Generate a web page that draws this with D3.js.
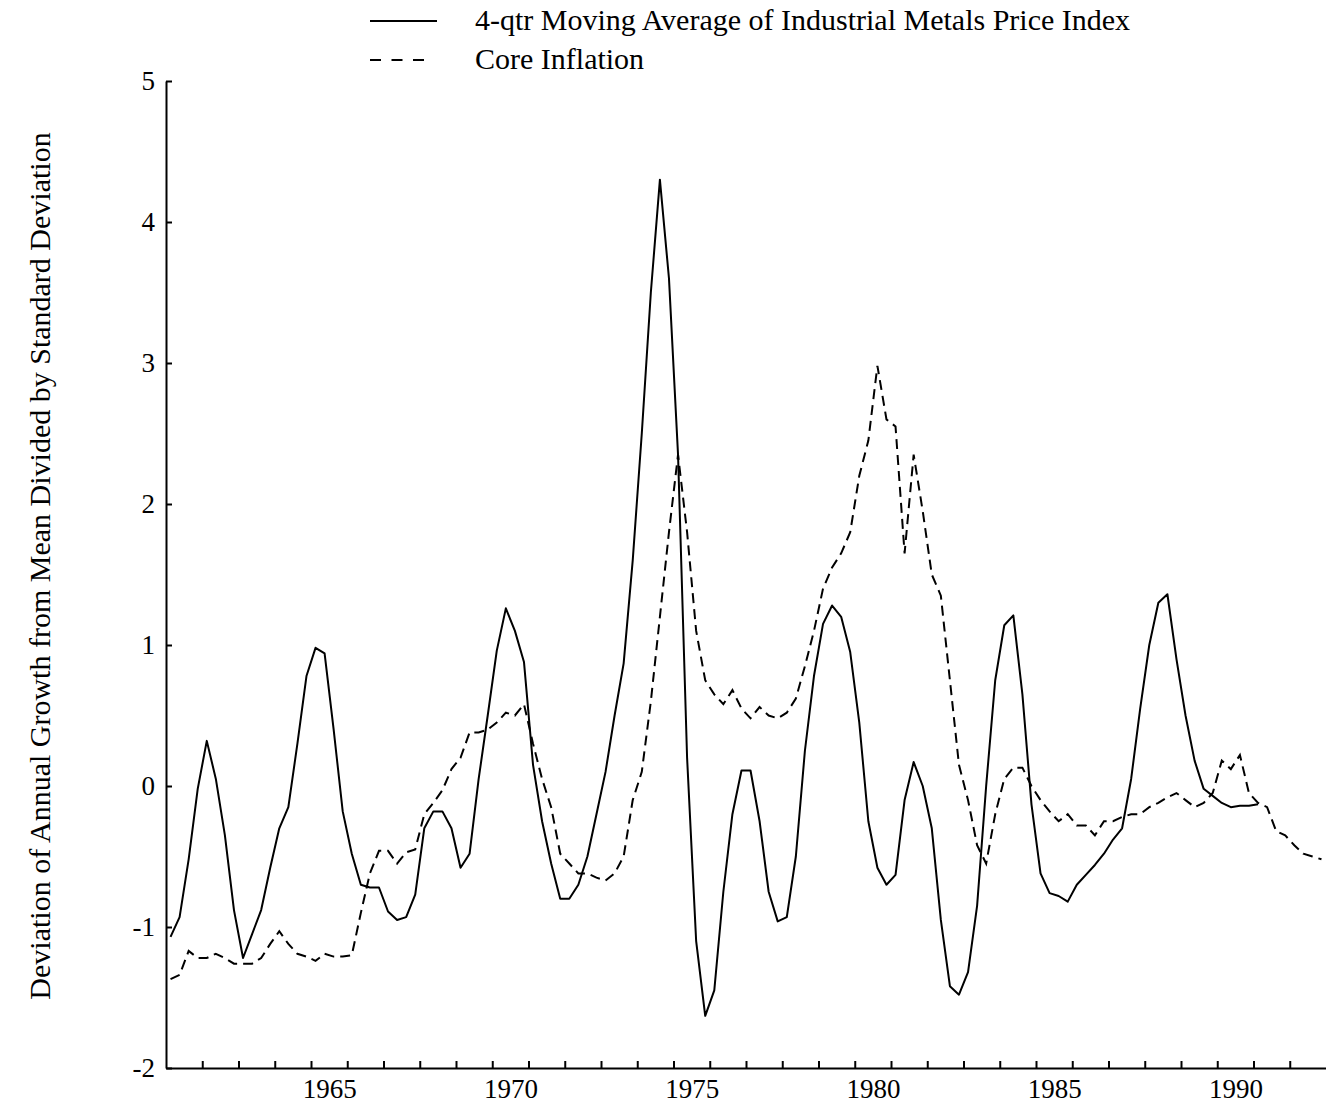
<!DOCTYPE html>
<html>
<head>
<meta charset="utf-8">
<script src="https://cdn.jsdelivr.net/npm/d3@7"></script>
<style>
  body { margin: 0; background: #fff; }
  svg { display: block; font-family: "Liberation Serif", "Times New Roman", serif; }
  .axis path, .axis line { stroke: #000; stroke-width: 2; }
  .axis text { font-size: 27px; fill: #000; font-family: "Liberation Serif", serif; }
</style>
</head>
<body>
<svg id="chart" width="1326" height="1110"></svg>
<script>
// quarterly series, first point 1961 Q1
const startYear = 1961
const metals = [
  -1.07, -0.93, -0.52, -0.02, 0.32, 0.05, -0.35, -0.88, -1.22, -1.05,
  -0.88, -0.58, -0.30, -0.15, 0.30, 0.78, 0.98, 0.94, 0.40, -0.18,
  -0.48, -0.70, -0.72, -0.72, -0.89, -0.95, -0.93, -0.77, -0.30, -0.18,
  -0.18, -0.30, -0.58, -0.48, 0.05, 0.50, 0.96, 1.26, 1.10, 0.88,
  0.15, -0.25, -0.55, -0.80, -0.80, -0.70, -0.50, -0.20, 0.10, 0.50,
  0.87, 1.60, 2.50, 3.50, 4.30, 3.60, 2.35, 0.20, -1.10, -1.63,
  -1.45, -0.75, -0.20, 0.11, 0.11, -0.25, -0.75, -0.96, -0.93, -0.50,
  0.25, 0.78, 1.15, 1.28, 1.20, 0.95, 0.45, -0.25, -0.58, -0.70,
  -0.63, -0.10, 0.17, 0.00, -0.30, -0.95, -1.42, -1.48, -1.32, -0.85,
  0.00, 0.75, 1.14, 1.21, 0.65, -0.13, -0.62, -0.76, -0.78, -0.82,
  -0.70, -0.63, -0.56, -0.48, -0.38, -0.30, 0.05, 0.55, 1.00, 1.30,
  1.36, 0.90, 0.50, 0.18, -0.02, -0.07, -0.12, -0.15, -0.14, -0.14,
  -0.13
]
const coreInflation = [
  -1.37, -1.34, -1.17, -1.22, -1.22, -1.19, -1.22, -1.26, -1.26, -1.26,
  -1.22, -1.12, -1.03, -1.12, -1.19, -1.21, -1.24, -1.19, -1.21, -1.21,
  -1.20, -0.90, -0.62, -0.46, -0.46, -0.55, -0.47, -0.45, -0.20, -0.12,
  -0.03, 0.12, 0.20, 0.38, 0.38, 0.40, 0.45, 0.52, 0.50, 0.58,
  0.30, 0.05, -0.15, -0.48, -0.55, -0.62, -0.62, -0.65, -0.67, -0.62,
  -0.50, -0.10, 0.10, 0.60, 1.20, 1.80, 2.35, 1.80, 1.10, 0.75,
  0.65, 0.58, 0.68, 0.55, 0.48, 0.56, 0.50, 0.48, 0.52, 0.62,
  0.85, 1.10, 1.40, 1.55, 1.65, 1.80, 2.20, 2.45, 2.98, 2.60,
  2.55, 1.65, 2.35, 1.95, 1.50, 1.35, 0.75, 0.15, -0.10, -0.42,
  -0.55, -0.20, 0.05, 0.13, 0.13, 0.00, -0.10, -0.18, -0.25, -0.20,
  -0.28, -0.28, -0.35, -0.25, -0.25, -0.22, -0.20, -0.20, -0.15, -0.12,
  -0.08, -0.05, -0.10, -0.15, -0.12, -0.05, 0.18, 0.12, 0.22, -0.05,
  -0.12, -0.15, -0.32, -0.35, -0.42, -0.48, -0.50, -0.52
]
const yTicks = [-2, -1, 0, 1, 2, 3, 4, 5]
const yearLabels = [1965, 1970, 1975, 1980, 1985, 1990]
const seriesNames = ['4-qtr Moving Average of Industrial Metals Price Index', 'Core Inflation']

const svg = d3.select('#chart')

const x = d3.scaleLinear().domain([1961, 1993]).range([166, 1326])
const y = d3.scaleLinear().domain([-2, 5]).range([1068, 81])

const toPoints = arr => arr.map((v, i) => ({ t: startYear + 0.125 + i / 4, v }))

const line = d3.line().x(d => x(d.t)).y(d => y(d.v))

// axes
svg.append('g')
  .attr('class', 'axis')
  .attr('transform', `translate(${x(1961)},0)`)
  .call(d3.axisLeft(y).tickValues(yTicks).tickFormat(d => String(d))
    .tickSizeInner(-6).tickSizeOuter(0).tickPadding(11))

svg.append('g')
  .attr('class', 'axis')
  .attr('transform', `translate(0,${y(-2)})`)
  .call(d3.axisBottom(x).tickValues(d3.range(1962, 1993)).tickFormat('')
    .tickSizeInner(-7).tickSizeOuter(0))

svg.append('g')
  .attr('class', 'axis')
  .attr('transform', `translate(0,${y(-2)})`)
  .call(d3.axisBottom(x).tickValues(yearLabels.map(d => d + 0.5))
    .tickFormat(d => Math.floor(d)).tickSize(0).tickPadding(11))
  .call(g => g.select('.domain').remove())

// lines
svg.append('path')
  .datum(toPoints(metals))
  .attr('fill', 'none')
  .attr('stroke', '#000')
  .attr('stroke-width', 2)
  .attr('stroke-linejoin', 'round')
  .attr('d', line)

svg.append('path')
  .datum(toPoints(coreInflation))
  .attr('fill', 'none')
  .attr('stroke', '#000')
  .attr('stroke-width', 2)
  .attr('stroke-dasharray', '10,6')
  .attr('d', line)

// y title
svg.append('text')
  .attr('transform', 'translate(50,566) rotate(-90)')
  .attr('text-anchor', 'middle')
  .style('font-size', '30px')
  .text('Deviation of Annual Growth from Mean Divided by Standard Deviation')

// legend
const legend = svg.append('g')
  .selectAll('g')
  .data(seriesNames)
  .join('g')
  .attr('transform', (d, i) => `translate(370,${21 + i * 39})`)

legend.append('line')
  .attr('x1', 0)
  .attr('x2', (d, i) => i === 0 ? 67 : 54)
  .attr('stroke', '#000')
  .attr('stroke-width', 2)
  .attr('stroke-dasharray', (d, i) => i === 0 ? null : '11,10.5')

legend.append('text')
  .attr('x', 105)
  .attr('y', 9)
  .style('font-size', '30px')
  .text(d => d)
</script>
</body>
</html>
